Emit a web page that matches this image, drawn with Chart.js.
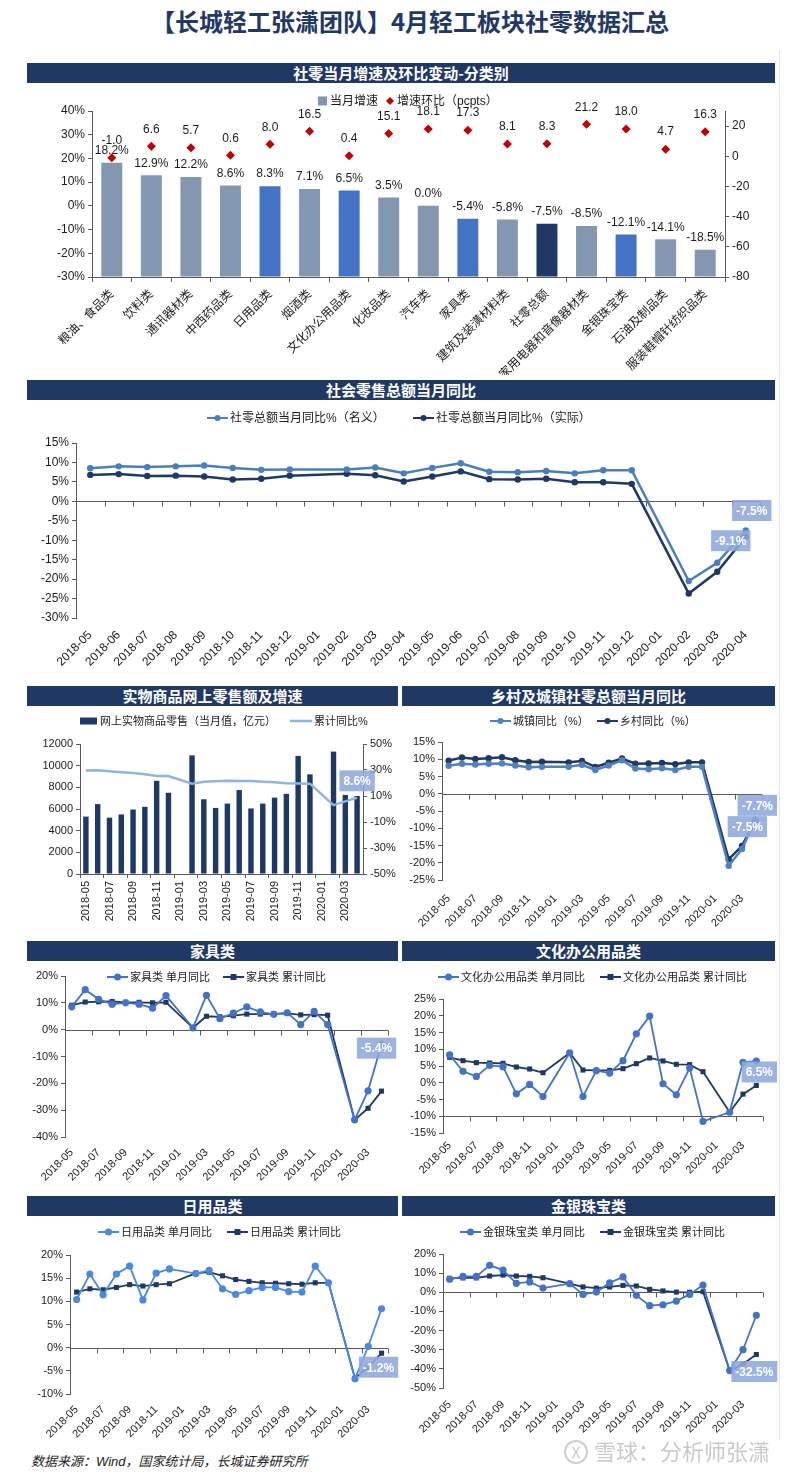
<!DOCTYPE html>
<html lang="zh-CN">
<head>
<meta charset="utf-8">
<title>4月轻工板块社零数据汇总</title>
<script src="https://cdn.jsdelivr.net/npm/chart.js@4.4.1/dist/chart.umd.min.js"></script>
<style>
  html, body { margin: 0; padding: 0; background: #fff; }
  body { width: 800px; height: 1473px; position: relative; overflow: hidden;
         font-family: 'Liberation Sans', 'Noto Sans CJK SC', sans-serif; }
  .title { position: absolute; left: 0; top: 5px; width: 820px; text-align: center; line-height: 32px;
           font-size: 24px; font-weight: bold; color: #1f3864; font-family: 'Noto Sans CJK SC', sans-serif; }
  .bar { position: absolute; height: 20px; line-height: 20px; background: #1f3864; color: #fff;
         text-align: center; font-weight: bold; font-size: 15px; font-family: 'Noto Sans CJK SC', sans-serif; }
  .box { position: absolute; }
  .frame { position: absolute; left: 779px; top: 50px; width: 1px; height: 1390px; background: #e4e4e4; }
  .note { position: absolute; left: 31px; top: 1452px; line-height: 20px; font-size: 13px; font-style: italic; color: #222; }
  .mark { position: absolute; left: 564px; top: 1437px; line-height: 26px; font-size: 22px; color: #c9c9c9;
          font-family: 'Noto Sans CJK SC', sans-serif; }
  .mark span { display: inline-block; width: 20px; height: 20px; line-height: 19px; border: 2px solid #cfcfcf;
               border-radius: 50%; text-align: center; font-size: 15px; vertical-align: 2px; margin-right: 6px; }
</style>
</head>
<body>
<div class="title">【长城轻工张潇团队】4月轻工板块社零数据汇总</div>
<div class="frame"></div>

<div class="bar" style="left:27px;top:63px;width:748px">社零当月增速及环比变动-分类别</div>
<div class="box" style="left:27px;top:85px;width:753px;height:290px"><canvas id="c1"></canvas></div>

<div class="bar" style="left:27px;top:380px;width:748px">社会零售总额当月同比</div>
<div class="box" style="left:27px;top:402px;width:753px;height:280px"><canvas id="c2"></canvas></div>

<div class="bar" style="left:27px;top:686px;width:371px">实物商品网上零售额及增速</div>
<div class="bar" style="left:402px;top:686px;width:373px">乡村及城镇社零总额当月同比</div>
<div class="box" style="left:27px;top:707px;width:375px;height:228px"><canvas id="c3"></canvas></div>
<div class="box" style="left:402px;top:707px;width:378px;height:228px"><canvas id="c4"></canvas></div>

<div class="bar" style="left:27px;top:941px;width:371px">家具类</div>
<div class="bar" style="left:402px;top:941px;width:373px">文化办公用品类</div>
<div class="box" style="left:27px;top:962px;width:373px;height:228px"><canvas id="c5"></canvas></div>
<div class="box" style="left:402px;top:962px;width:378px;height:228px"><canvas id="c6"></canvas></div>

<div class="bar" style="left:27px;top:1196px;width:371px">日用品类</div>
<div class="bar" style="left:402px;top:1196px;width:373px">金银珠宝类</div>
<div class="box" style="left:27px;top:1217px;width:373px;height:225px"><canvas id="c7"></canvas></div>
<div class="box" style="left:402px;top:1217px;width:378px;height:225px"><canvas id="c8"></canvas></div>

<div class="note">数据来源：Wind，国家统计局，长城证券研究所</div>
<div class="mark"><span>X</span>雪球：分析师张潇</div>

<script>
// ---- data ----
const months = ['2018-05', '2018-06', '2018-07', '2018-08', '2018-09', '2018-10', '2018-11', '2018-12',
                '2019-01', '2019-02', '2019-03', '2019-04', '2019-05', '2019-06', '2019-07', '2019-08',
                '2019-09', '2019-10', '2019-11', '2019-12', '2020-01', '2020-02', '2020-03', '2020-04'];

const categories = ['粮油、食品类', '饮料类', '通讯器材类', '中西药品类', '日用品类', '烟酒类', '文化办公用品类', '化妆品类',
                    '汽车类', '家具类', '建筑及装潢材料类', '社零总额', '家用电器和音像器材类', '金银珠宝类', '石油及制品类', '服装鞋帽针纺织品类'];
const monthlyGrowth = [18.2, 12.9, 12.2, 8.6, 8.3, 7.1, 6.5, 3.5, 0.0, -5.4, -5.8, -7.5, -8.5, -12.1, -14.1, -18.5];
const momChange = [-1.0, 6.6, 5.7, 0.6, 8.0, 16.5, 0.4, 15.1, 18.1, 17.3, 8.1, 8.3, 21.2, 18.0, 4.7, 16.3];
const highlighted = ['日用品类', '文化办公用品类', '家具类', '金银珠宝类'];
const totalName = '社零总额';

const retailNominal = [8.5, 9.0, 8.8, 9.0, 9.2, 8.6, 8.1, 8.2, null, 8.2, 8.7, 7.2, 8.6, 9.8, 7.6, 7.5, 7.8, 7.2, 8.0, 8.0, null, -20.5, -15.8, -7.5];
const retailReal = [6.8, 7.0, 6.5, 6.6, 6.4, 5.6, 5.8, 6.6, null, 7.1, 6.7, 5.1, 6.4, 7.7, 5.7, 5.6, 5.8, 4.9, 4.9, 4.5, null, -23.7, -18.1, -9.1];

const onlineSales = [5300, 6450, 5200, 5500, 5950, 6200, 8600, 7500, null, 10950, 6900, 6100, 6500, 7750, 6050, 6500, 7050, 7400, 10900, 9200, null, 11300, 7300, 7200];
const onlineCumYoy = [29.7, 29.8, 29.1, 28.3, 27.7, 26.7, 25.4, 25.4, null, 19.5, 21.0, 21.4, 21.7, 21.6, 21.6, 21.0, 20.5, 19.8, 19.7, 19.5, null, 3.0, 5.9, 8.6];

const urbanYoy = [8.1, 8.7, 8.5, 8.7, 8.8, 8.2, 7.7, 7.8, null, 7.8, 8.4, 6.9, 8.2, 9.7, 7.3, 7.1, 7.4, 6.9, 7.8, 7.8, null, -20.9, -16.0, -7.5];
const ruralYoy = [9.6, 10.5, 10.1, 10.3, 10.6, 9.7, 9.2, 9.3, null, 9.1, 9.5, 7.8, 9.0, 10.2, 8.7, 8.8, 8.9, 8.6, 9.1, 9.1, null, -19.0, -15.1, -7.7];

const furnMonthly = [8.5, 14.9, 11.3, 9.5, 10.0, 9.5, 8.0, 12.7, null, 0.7, 12.8, 4.1, 6.2, 8.5, 6.6, 5.7, 6.3, 1.9, 6.8, 1.9, null, -33.6, -22.8, -5.4];
const furnCum = [9.1, 10.3, 10.4, 10.5, 10.2, 10.2, 10.0, 10.2, null, 0.7, 5.0, 4.8, 5.2, 5.8, 5.8, 5.9, 6.1, 5.5, 5.6, 5.4, null, -33.6, -29.3, -22.9];

const officeMonthly = [8.3, 3.4, 1.9, 5.2, 4.8, -3.3, -0.5, -4.1, null, 8.9, -4.1, 3.6, 2.9, 6.6, 14.6, 19.9, -0.3, -3.6, 4.4, -11.5, null, -8.8, 6.1, 6.5];
const officeCum = [7.6, 6.6, 6.0, 5.9, 5.8, 4.7, 4.1, 3.0, null, 8.9, 3.8, 3.7, 3.7, 4.2, 5.7, 7.4, 6.5, 5.5, 5.4, 3.3, null, -8.8, -3.4, -0.8];

const dailyMonthly = [10.4, 15.9, 11.4, 15.9, 17.6, 10.3, 16.1, 17.0, null, 16.0, 16.7, 12.7, 11.5, 12.3, 13.0, 13.0, 12.1, 12.0, 17.6, 14.0, null, -6.7, 0.3, 8.4];
const dailyCum = [12.0, 12.7, 12.5, 13.0, 13.6, 13.3, 13.6, 13.8, null, 16.1, 16.3, 15.5, 14.7, 14.3, 14.0, 13.9, 13.8, 13.7, 14.0, 14.0, null, -6.6, -4.2, -1.2];

const jewelMonthly = [6.8, 8.3, 8.3, 14.1, 11.6, 4.7, 5.4, 2.2, null, 4.5, -1.1, 0.1, 4.9, 8.0, -1.6, -7.0, -6.5, -4.6, -1.1, 3.8, null, -40.9, -30.0, -12.0];
const jewelCum = [7.3, 7.5, 7.5, 8.5, 9.0, 8.5, 8.3, 7.6, null, 4.5, 2.8, 2.2, 2.8, 3.6, 3.3, 1.5, 0.7, 0.1, 0.0, 0.3, null, -40.9, -37.5, -32.5];

// ---- style ----
const FONT = "'Liberation Sans', 'Noto Sans CJK SC', sans-serif";
const NAVY = '#1f3864', BLUE = '#4472c4', GREYBLUE = '#8497b0', AXIS = '#595959', TEXT = '#1a1a1a';
Chart.defaults.font.family = FONT;
Chart.defaults.color = TEXT;
Chart.defaults.animation = false;

const pct = v => v + '%';

// horizontal axis line drawn at a value, with small ticks between categories
const crossLine = {
  id: 'crossLine',
  beforeDatasetsDraw(chart, args, o) {
    if (o.value === undefined || o.value === null) return;
    const xs = chart.scales.x, ys = chart.scales.y;
    const py = Math.round(ys.getPixelForValue(o.value)) + 0.5;
    const n = chart.data.labels.length, w = (xs.right - xs.left) / n;
    const ctx = chart.ctx;
    ctx.save();
    ctx.strokeStyle = AXIS;
    ctx.lineWidth = 1;
    ctx.beginPath();
    ctx.moveTo(xs.left, py);
    ctx.lineTo(xs.right, py);
    for (let i = o.every; i <= n; i += o.every) {
      const px = Math.round(xs.left + i * w) + 0.5;
      ctx.moveTo(px, py);
      ctx.lineTo(px, py + 5);
    }
    ctx.stroke();
    ctx.restore();
  }
};

// plain value labels above every mark of a dataset
const valueLabels = {
  id: 'valueLabels',
  afterDatasetsDraw(chart, args, o) {
    if (!o.sets) return;
    const ctx = chart.ctx;
    ctx.save();
    ctx.font = (o.size || 11) + 'px ' + FONT;
    ctx.fillStyle = TEXT;
    ctx.textAlign = 'center';
    ctx.textBaseline = 'middle';
    o.sets.forEach(s => {
      const data = chart.data.datasets[s.dataset].data;
      chart.getDatasetMeta(s.dataset).data.forEach((el, i) => {
        ctx.fillText(data[i].toFixed(1) + s.suffix, el.x, el.y + s.dy);
      });
    });
    ctx.restore();
  }
};

// highlighted last-value callouts
const boxLabels = {
  id: 'boxLabels',
  afterDatasetsDraw(chart, args, o) {
    if (!o.items) return;
    const ctx = chart.ctx;
    ctx.save();
    ctx.font = 'bold 12px ' + FONT;
    ctx.textAlign = 'center';
    ctx.textBaseline = 'middle';
    o.items.forEach(it => {
      const el = chart.getDatasetMeta(it.dataset).data[it.index];
      const v = chart.data.datasets[it.dataset].data[it.index];
      const txt = v.toFixed(1) + '%';
      const x = el.x + it.dx, y = el.y + it.dy;
      const w = ctx.measureText(txt).width + 8, h = 21;
      ctx.fillStyle = 'rgba(142,169,219,0.88)';
      ctx.fillRect(x - w / 2, y - h / 2, w, h);
      ctx.fillStyle = '#fff';
      ctx.fillText(txt, x, y + 1);
    });
    ctx.restore();
  }
};

// small legend, placed by hand like the original
const legendLite = {
  id: 'legendLite',
  afterDraw(chart, args, o) {
    if (!o.items) return;
    const ctx = chart.ctx;
    const y = o.y;
    ctx.save();
    ctx.font = (o.size || 11) + 'px ' + FONT;
    ctx.textAlign = 'left';
    ctx.textBaseline = 'middle';
    o.items.forEach(it => {
      const ds = chart.data.datasets[it.dataset];
      const color = it.color || ds.borderColor;
      let x = it.x;
      ctx.fillStyle = color;
      ctx.strokeStyle = color;
      if (it.kind === 'rect') {
        ctx.fillRect(x, y - it.h / 2, it.w, it.h);
        x += it.w + 3;
      } else if (it.kind === 'diamond') {
        const r = 4;
        ctx.beginPath();
        ctx.moveTo(x + r, y - r); ctx.lineTo(x + 2 * r, y); ctx.lineTo(x + r, y + r); ctx.lineTo(x, y);
        ctx.closePath();
        ctx.fill();
        x += 2 * r + 3;
      } else {
        ctx.lineWidth = it.lw || 2;
        ctx.beginPath();
        ctx.moveTo(x, y); ctx.lineTo(x + it.len, y);
        ctx.stroke();
        const cx = x + it.len / 2, r = it.r || 3;
        if (it.marker === 'circle') {
          ctx.beginPath(); ctx.arc(cx, y, r, 0, Math.PI * 2); ctx.fill();
        } else if (it.marker === 'square') {
          ctx.fillRect(cx - r, y - r, 2 * r, 2 * r);
        }
        x += it.len + 2;
      }
      ctx.fillStyle = TEXT;
      ctx.fillText(ds.label, x, y + 0.5);
    });
    ctx.restore();
  }
};

Chart.register(crossLine, valueLabels, boxLabels, legendLite);

function yAxis(min, max, step, width, size, fmt, position) {
  return {
    position: position || 'left', min: min, max: max,
    ticks: { stepSize: step, callback: fmt, font: { size: size }, padding: 3, color: TEXT },
    grid: { display: true, drawOnChartArea: false, drawTicks: true, tickLength: 4, color: AXIS },
    border: { display: true, color: AXIS },
    afterFit: s => { s.width = width; }
  };
}

function xCross(height, rotation, every, size, padding) {
  return {
    type: 'category', offset: true,
    ticks: {
      autoSkip: false, minRotation: rotation, maxRotation: rotation, padding: padding, font: { size: size }, color: TEXT,
      callback: function (v, i) { return i % every === 0 ? this.getLabelForValue(v) : ''; }
    },
    grid: { display: false, drawTicks: false },
    border: { display: false },
    afterFit: s => { s.height = height; }
  };
}

function lineSet(label, data, color, marker, r, lw) {
  return {
    type: 'line', label: label, data: data, borderColor: color, backgroundColor: color,
    borderWidth: lw, pointStyle: marker, pointRadius: r, pointHoverRadius: r, pointBorderWidth: 0,
    spanGaps: true, tension: 0, clip: false
  };
}

// ---- 1. category bars ----
const barColors = categories.map(c => c === totalName ? NAVY : (highlighted.includes(c) ? BLUE : GREYBLUE));

new Chart(document.getElementById('c1'), {
  type: 'bar',
  data: {
    labels: categories,
    datasets: [
      { type: 'bar', label: '当月增速', data: monthlyGrowth, backgroundColor: barColors, base: -30,
        barPercentage: 0.53, categoryPercentage: 1, yAxisID: 'y', order: 2 },
      { type: 'line', label: '增速环比（pcpts）', data: momChange, showLine: false, pointStyle: 'rectRot',
        pointRadius: 4.5, pointHoverRadius: 4.5, backgroundColor: '#c00000', borderColor: '#c00000', borderWidth: 0,
        yAxisID: 'y2', order: 1 }
    ]
  },
  options: {
    responsive: true, maintainAspectRatio: false,
    layout: { padding: { top: 26, left: 0, right: 0, bottom: 0 } },
    scales: {
      x: {
        offset: true,
        ticks: { autoSkip: false, minRotation: 45, maxRotation: 45, padding: 5, font: { size: 12 }, color: TEXT },
        grid: { display: true, drawOnChartArea: false, drawTicks: true, tickLength: 5, offset: true, color: AXIS },
        border: { display: true, color: AXIS },
        afterFit: s => { s.height = 98; }
      },
      y: yAxis(-30, 40, 10, 65, 12, pct),
      y2: Object.assign(yAxis(-80, 30, 20, 55, 12, v => v, 'right'),
        { ticks: { stepSize: 20, includeBounds: false, font: { size: 12 }, padding: 3, color: TEXT } })
    },
    plugins: {
      legend: { display: false }, tooltip: { enabled: false },
      valueLabels: { size: 12, sets: [{ dataset: 0, suffix: '%', dy: -12 }, { dataset: 1, suffix: '', dy: -17 }] },
      legendLite: { y: 16, size: 12, items: [
        { dataset: 0, kind: 'rect', x: 291, w: 9, h: 9, color: GREYBLUE },
        { dataset: 1, kind: 'diamond', x: 359 }
      ] }
    }
  }
});

// ---- 2. total retail yoy ----
new Chart(document.getElementById('c2'), {
  type: 'line',
  data: {
    labels: months,
    datasets: [
      lineSet('社零总额当月同比%（名义）', retailNominal, '#4a7ebb', 'circle', 3.2, 2.5),
      lineSet('社零总额当月同比%（实际）', retailReal, NAVY, 'circle', 3.2, 2.5)
    ]
  },
  options: {
    responsive: true, maintainAspectRatio: false,
    layout: { padding: { top: 41, right: 20, left: 0, bottom: 0 } },
    scales: { x: xCross(64, 45, 1, 12, 10), y: yAxis(-30, 15, 5, 49, 12, pct) },
    plugins: {
      legend: { display: false }, tooltip: { enabled: false },
      crossLine: { value: 0, every: 1 },
      boxLabels: { items: [{ dataset: 0, index: 23, dx: 6, dy: -20 }, { dataset: 1, index: 23, dx: -15, dy: 4 }] },
      legendLite: { y: 16, size: 12, items: [
        { dataset: 0, kind: 'line', x: 180, len: 21, marker: 'circle', r: 3 },
        { dataset: 1, kind: 'line', x: 386, len: 21, marker: 'circle', r: 3 }
      ] }
    }
  }
});

// ---- 3. online sales ----
new Chart(document.getElementById('c3'), {
  type: 'bar',
  data: {
    labels: months,
    datasets: [
      { type: 'bar', label: '网上实物商品零售（当月值，亿元）', data: onlineSales, backgroundColor: NAVY, borderColor: NAVY,
        barPercentage: 0.46, categoryPercentage: 1, yAxisID: 'y', order: 2 },
      { type: 'line', label: '累计同比%', data: onlineCumYoy, borderColor: '#8db4e2', backgroundColor: '#8db4e2',
        borderWidth: 2.5, pointRadius: 0, spanGaps: true, tension: 0, yAxisID: 'y2', order: 1 }
    ]
  },
  options: {
    responsive: true, maintainAspectRatio: false,
    layout: { padding: { top: 37, right: 0, left: 0, bottom: 0 } },
    scales: {
      x: {
        offset: true,
        ticks: { autoSkip: false, minRotation: 90, maxRotation: 90, padding: 3, font: { size: 11 }, color: TEXT,
          callback: function (v, i) { return i % 2 === 0 ? this.getLabelForValue(v) : ''; } },
        grid: { display: true, drawOnChartArea: false, drawTicks: true, tickLength: 4, offset: true,
          color: c => (c.index % 2 === 0 ? AXIS : 'rgba(0,0,0,0)') },
        border: { display: true, color: AXIS },
        afterFit: s => { s.height = 61; }
      },
      y: yAxis(0, 12000, 2000, 53, 11, v => v),
      y2: yAxis(-50, 50, 20, 39, 11, pct, 'right')
    },
    plugins: {
      legend: { display: false }, tooltip: { enabled: false },
      boxLabels: { items: [{ dataset: 1, index: 23, dx: 0, dy: -17 }] },
      legendLite: { y: 14, size: 11, items: [
        { dataset: 0, kind: 'rect', x: 53, w: 17, h: 7 },
        { dataset: 1, kind: 'line', x: 263, len: 22, lw: 2.5 }
      ] }
    }
  }
});

// ---- line panels ----
function panel(id, cfg) {
  return new Chart(document.getElementById(id), {
    type: 'line',
    data: { labels: months, datasets: cfg.datasets },
    options: {
      responsive: true, maintainAspectRatio: false,
      layout: { padding: { top: cfg.top, right: cfg.right, left: 0, bottom: 0 } },
      scales: {
        x: xCross(cfg.xh, 45, 2, 11, cfg.xpad),
        y: yAxis(cfg.min, cfg.max, cfg.step, cfg.yw, 11, pct)
      },
      plugins: {
        legend: { display: false }, tooltip: { enabled: false },
        crossLine: { value: cfg.cross, every: 2 },
        boxLabels: { items: cfg.boxes },
        legendLite: { y: cfg.ly, size: 11, items: cfg.legend }
      }
    }
  });
}

panel('c4', {
  datasets: [
    lineSet('城镇同比（%）', urbanYoy, '#4f81bd', 'circle', 3.2, 2.5),
    lineSet('乡村同比（%）', ruralYoy, NAVY, 'circle', 3.2, 2.5)
  ],
  top: 35, right: 18, xh: 55, xpad: 12, min: -25, max: 15, step: 5, yw: 40, cross: 0,
  boxes: [{ dataset: 0, index: 23, dx: -8, dy: 7 }, { dataset: 1, index: 23, dx: 2, dy: -15 }],
  ly: 14, legend: [
    { dataset: 0, kind: 'line', x: 88, len: 21, marker: 'circle', r: 3 },
    { dataset: 1, kind: 'line', x: 195, len: 21, marker: 'circle', r: 3 }
  ]
});

panel('c5', {
  datasets: [
    lineSet('家具类 单月同比', furnMonthly, BLUE, 'circle', 3.6, 1.8),
    lineSet('家具类 累计同比', furnCum, NAVY, 'rect', 3.6, 1.8)
  ],
  top: 14, right: 7, xh: 53, xpad: 9, min: -40, max: 20, step: 10, yw: 38, cross: 0,
  boxes: [{ dataset: 0, index: 23, dx: -5, dy: 4 }],
  ly: 15, legend: [
    { dataset: 0, kind: 'line', x: 80, len: 21, marker: 'circle', r: 3.5 },
    { dataset: 1, kind: 'line', x: 196, len: 21, marker: 'square', r: 3 }
  ]
});

panel('c6', {
  datasets: [
    lineSet('文化办公用品类 单月同比', officeMonthly, BLUE, 'circle', 3.6, 1.8),
    lineSet('文化办公用品类 累计同比', officeCum, NAVY, 'rect', 3.6, 1.8)
  ],
  top: 37, right: 17, xh: 57, xpad: 6, min: -15, max: 25, step: 5, yw: 41, cross: -10,
  boxes: [{ dataset: 0, index: 23, dx: 3, dy: 11 }],
  ly: 15, legend: [
    { dataset: 0, kind: 'line', x: 36, len: 21, marker: 'circle', r: 3.5 },
    { dataset: 1, kind: 'line', x: 198, len: 21, marker: 'square', r: 3 }
  ]
});

panel('c7', {
  datasets: [
    lineSet('日用品类 单月同比', dailyMonthly, '#4a89dc', 'circle', 3.6, 1.8),
    lineSet('日用品类 累计同比', dailyCum, NAVY, 'rect', 3.6, 1.8)
  ],
  top: 38, right: 7, xh: 48, xpad: 9, min: -10, max: 20, step: 5, yw: 43, cross: 0,
  boxes: [{ dataset: 1, index: 23, dx: -3, dy: 14 }],
  ly: 15, legend: [
    { dataset: 0, kind: 'line', x: 71, len: 21, marker: 'circle', r: 3.5 },
    { dataset: 1, kind: 'line', x: 200, len: 21, marker: 'square', r: 3 }
  ]
});

panel('c8', {
  datasets: [
    lineSet('金银珠宝类 单月同比', jewelMonthly, BLUE, 'circle', 3.6, 1.8),
    lineSet('金银珠宝类 累计同比', jewelCum, NAVY, 'rect', 3.6, 1.8)
  ],
  top: 37, right: 17, xh: 54, xpad: 10, min: -50, max: 20, step: 10, yw: 41, cross: 0,
  boxes: [{ dataset: 1, index: 23, dx: -2, dy: 17 }],
  ly: 15, legend: [
    { dataset: 0, kind: 'line', x: 58, len: 21, marker: 'circle', r: 3.5 },
    { dataset: 1, kind: 'line', x: 198, len: 21, marker: 'square', r: 3 }
  ]
});
</script>
</body>
</html>
